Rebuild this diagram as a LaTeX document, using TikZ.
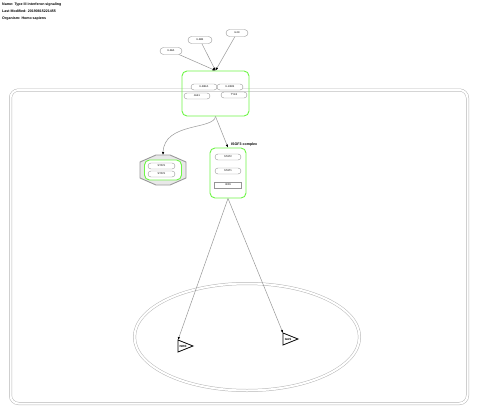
\documentclass[tikz,border=0pt]{standalone}
\usepackage{fontspec}
\setmainfont{Liberation Sans}
\usepackage{tikz}
\usetikzlibrary{arrows.meta,shapes.misc}

\definecolor{cplxgreen}{RGB}{110,245,70}
\definecolor{linegray}{RGB}{150,150,150}

\begin{document}
\begin{tikzpicture}[x=1pt,y=-1pt,
    gene/.style={rounded rectangle, draw=linegray, fill=white, minimum height=6pt,
      minimum width=26pt, inner sep=0pt, font=\fontsize{2.6}{3}\selectfont},
    genebox/.style={draw=linegray, fill=white, minimum height=6pt,
      minimum width=27pt, inner sep=0pt, font=\fontsize{2.6}{3}\selectfont},
    cplx/.style={draw=cplxgreen, line width=0.9pt, rounded corners=5pt, inner sep=0pt},
    interact/.style={draw=linegray, line width=0.5pt, -{Latex[length=3pt,width=2.4pt,black]}},
    shell/.style={draw=linegray!70, double, double distance=2pt, line width=0.5pt},
    tfsite/.style={draw=black, line width=0.8pt}]
  \useasboundingbox (0,0) rectangle (480,416);

  %header
  \node[anchor=north west, align=left, inner sep=0pt, font=\fontsize{3.6}{7}\selectfont\bfseries]
    (info) at (2,3) {Name: Type III interferon signaling\\Last Modified: 20190815221455\\Organism: Homo sapiens};

  %cell and nucleus
  \draw[shell, rounded corners=8pt] (10.5,90) rectangle (467.5,403.5);
  \draw[shell] (247,337) ellipse (112.5 and 53.5);

  %ligands
  \node[gene, minimum width=22pt, minimum height=7pt] (IL28A) at (171,51) {IL28A};
  \node[gene, minimum width=24pt, minimum height=7pt] (IL28B) at (200,40) {IL28B};
  \node[gene, minimum width=22pt, minimum height=7pt] (IL29) at (237,33) {IL29};

  %receptor complex
  \node[cplx, minimum width=67pt, minimum height=45pt] (receptor) at (215.5,93.5) {};
  \node[gene] (IL28RA) at (204,87) {IL28RA};
  \node[gene] (IL10RB) at (230,87) {IL10RB};
  \node[gene] (JAK1) at (197,96) {JAK1};
  \node[gene] (TYK2) at (234,95) {TYK2};

  \path[interact] (IL28A)--(receptor.north);
  \path[interact] (IL28B)--(receptor.north);
  \path[interact] (IL29)--(receptor.north);

  %STAT1 homodimer
  \draw[draw=gray!80, fill=gray!18, line width=0.9pt]
    (156,155) -- (170,155) -- (186,162) -- (186,178) -- (170,185) -- (156,185)
    -- (140,178) -- (140,162) -- cycle;
  \coordinate (GAFtop) at (163,155);
  \node[cplx, fill=white, minimum width=37pt, minimum height=20pt] (dimer) at (163,170) {};
  \node[gene, minimum width=27pt] (STAT1a) at (161.5,166) {STAT1};
  \node[gene, minimum width=27pt] (STAT1b) at (161.5,174) {STAT1};

  %ISGF3 complex
  \node[cplx, minimum width=36pt, minimum height=50pt] (ISGF3) at (228,173) {};
  \node[anchor=south west, inner sep=0pt, font=\fontsize{3.6}{4}\selectfont\bfseries]
    (ISGF3label) at (231,146) {ISGF3 complex};
  \node[gene] (STAT2) at (228,157) {STAT2};
  \node[gene] (STAT1c) at (228,171) {STAT1};
  \node[genebox] (IRF9) at (228,185) {IRF9};

  \path[interact] (receptor.south) .. controls (214,130) and (164,122) .. (GAFtop);
  \path[interact] (receptor.south)--(ISGF3.north);

  %binding sites
  \draw[tfsite] (178,340) -- (193,346) -- (178,352) -- cycle;
  \coordinate (ISREtop) at (178,340);
  \node[inner sep=0pt, font=\fontsize{3}{3.5}\selectfont\bfseries] (ISRE) at (183,346) {ISRE};
  \draw[tfsite] (283,333) -- (298,339) -- (283,345) -- cycle;
  \coordinate (GAStop) at (283,333);
  \node[inner sep=0pt, font=\fontsize{3}{3.5}\selectfont\bfseries] (GAS) at (288,339) {GAS};

  \path[interact] (ISGF3.south)--(ISREtop);
  \path[interact] (ISGF3.south)--(GAStop);
\end{tikzpicture}
\end{document}
